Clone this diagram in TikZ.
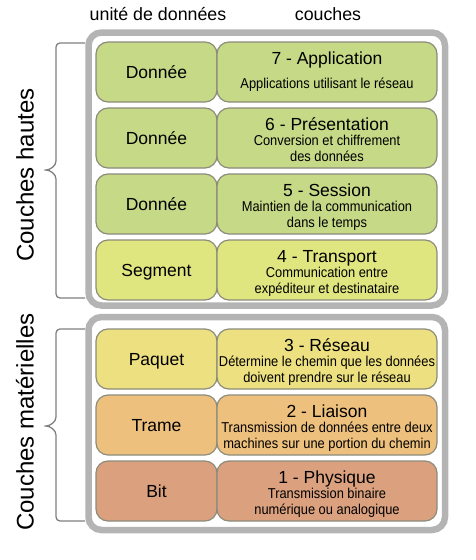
\documentclass[tikz,border=0pt]{standalone}
\usepackage{fontspec}
\setmainfont{Liberation Sans}
\newfontfamily\narrowfont[FakeStretch=0.9]{Liberation Sans}
\usetikzlibrary{positioning}
\definecolor{appgreen}{HTML}{C5D986}
\definecolor{transyellow}{HTML}{E0E67F}
\definecolor{netyellow}{HTML}{EDE080}
\definecolor{linkorange}{HTML}{EDC07E}
\definecolor{physred}{HTML}{DBA17F}
\definecolor{cellline}{HTML}{8C8C7C}
\definecolor{framegray}{HTML}{B4B4B4}
\definecolor{bracegray}{HTML}{808080}
\newcommand\layertitle[1]{{\normalfont\fontsize{17.5}{20}\selectfont #1}}
\begin{document}
\begin{tikzpicture}[x=1pt,y=-1pt,
    group box/.style={draw=framegray,line width=6.5pt,rounded corners=13pt,inner sep=0pt},
    cell/.style={draw=cellline,line width=1.2pt,rounded corners=12pt,minimum height=60pt,inner sep=0pt},
    unit cell/.style={cell,minimum width=121pt,font=\fontsize{17.5}{20}\selectfont,text height=12.5pt,text depth=0pt},
    layer cell/.style={cell,minimum width=220pt,align=center,font=\narrowfont\fontsize{14.3}{15.5}\selectfont,text height=46pt,text depth=0pt},
    head/.style={font=\fontsize{17.8}{20}\selectfont,text height=12.5pt,text depth=0pt,inner sep=0pt},
    side/.style={font=\fontsize{24}{28}\selectfont,rotate=90,inner sep=0pt},
    brace/.style={draw=bracegray,line width=1.3pt,rounded corners=4pt}]
        \useasboundingbox (0,0) rectangle (476,560);

        % headers
        \node[head] (unithead) at (158,14) {unité de données};
        \node[head] (layerhead) at (328,14) {couches};

        % the two groups
        \node[group box, minimum width=356.5pt, minimum height=273pt] (upper) at (266.75,169) {};
        \node[group box, minimum width=356.5pt, minimum height=213pt] (lower) at (266.75,423.5) {};

        % upper layers
        \node[unit cell, fill=appgreen] at (156.5,72) (appunit) {Donnée};
        \node[layer cell, fill=appgreen, text height=32pt] at (327,72) (applayer) {\layertitle{7 - Application}\\[8.4pt]Applications utilisant le réseau};
        \node[unit cell, fill=appgreen] at (156.5,138) (presunit) {Donnée};
        \node[layer cell, fill=appgreen] at (327,138) (preslayer) {\layertitle{6 - Présentation}\\Conversion et chiffrement\\des données};
        \node[unit cell, fill=appgreen] at (156.5,204) (sessunit) {Donnée};
        \node[layer cell, fill=appgreen] at (327,204) (sesslayer) {\layertitle{5 - Session}\\Maintien de la communication\\dans le temps};
        \node[unit cell, fill=transyellow] at (156.5,270) (transunit) {Segment};
        \node[layer cell, fill=transyellow] at (327,270) (translayer) {\layertitle{4 - Transport}\\Communication entre\\expéditeur et destinataire};

        % hardware layers
        \node[unit cell, fill=netyellow] at (156.5,359) (netunit) {Paquet};
        \node[layer cell, fill=netyellow] at (327,359) (netlayer) {\layertitle{3 - Réseau}\\Détermine le chemin que les données\\doivent prendre sur le réseau};
        \node[unit cell, fill=linkorange] at (156.5,425) (linkunit) {Trame};
        \node[layer cell, fill=linkorange] at (327,425) (linklayer) {\layertitle{2 - Liaison}\\Transmission de données entre deux\\machines sur une portion du chemin};
        \node[unit cell, fill=physred] at (156.5,491) (physunit) {Bit};
        \node[layer cell, fill=physred] at (327,491) (physlayer) {\layertitle{1 - Physique}\\Transmission binaire\\numérique ou analogique};

        % braces and side labels
        \draw[brace] (85,43) -- (56,43) -- (56,157) .. controls (56,166) and (50,170) .. (42,170)
            .. controls (50,170) and (56,174) .. (56,183) -- (56,298) -- (85,298);
        \draw[brace] (85,329) -- (56,329) -- (56,413) .. controls (56,422) and (50,426) .. (42,426)
            .. controls (50,426) and (56,430) .. (56,439) -- (56,521) -- (85,521);
        \node[side] (upperlabel) at (25,175) {Couches hautes};
        \node[side] (lowerlabel) at (25,422) {Couches matérielles};
        \end{tikzpicture}
\end{document}
